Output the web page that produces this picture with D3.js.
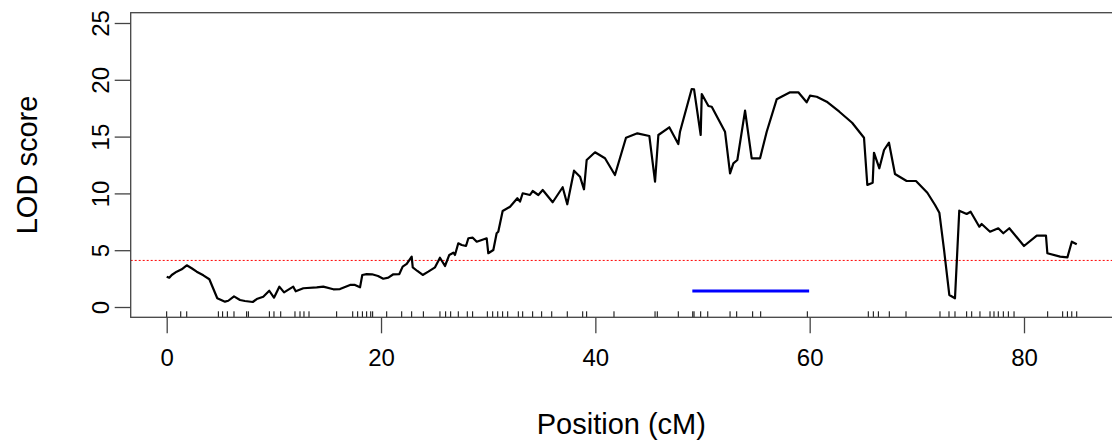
<!DOCTYPE html>
<html>
<head>
<meta charset="utf-8">
<script src="https://cdn.jsdelivr.net/npm/d3@7"></script>
<style>
  body { margin: 0; background: #fff; }
  text { font-family: "Liberation Sans", Arial, sans-serif; fill: #000; }
</style>
</head>
<body>
<script>
// LOD curve (position in cM, LOD score)
const positions = [0, 0.24, 0.47, 0.93, 1.4, 1.87, 2.33, 2.8, 3.42, 3.98, 4.72, 5.44, 5.75, 6.28, 6.84, 7.3, 8.03, 8.4, 9.01, 9.57, 10.01, 10.51, 10.95, 11.81, 12.04, 12.75, 14.0, 14.61, 15.55, 16.17, 17.11, 17.57, 18.04, 18.25, 18.66, 19.16, 19.72, 20.21, 20.68, 21.15, 21.71, 22.02, 22.4, 22.86, 22.96, 23.39, 23.89, 24.41, 25.04, 25.5, 25.97, 26.37, 26.75, 26.9, 27.21, 27.53, 27.93, 28.15, 28.56, 28.93, 29.4, 29.86, 30.01, 30.48, 30.79, 30.94, 31.35, 32.04, 32.72, 32.97, 33.22, 33.9, 34.15, 34.68, 35.09, 36.02, 36.95, 37.38, 38.01, 38.57, 38.94, 39.19, 39.97, 40.9, 41.83, 42.86, 43.92, 45.04, 45.57, 45.88, 46.9, 47.74, 47.9, 48.99, 49.21, 49.83, 49.93, 50.55, 50.86, 52.1, 52.57, 52.88, 53.25, 53.97, 54.59, 55.37, 55.99, 56.92, 58.17, 58.94, 59.72, 60.03, 60.66, 61.59, 62.77, 63.96, 65.07, 65.38, 65.88, 66.0, 66.5, 66.94, 67.4, 67.96, 69.05, 69.92, 70.98, 71.7, 72.1, 72.54, 73.03, 73.56, 73.96, 74.65, 75.02, 75.83, 76.05, 76.83, 77.6, 78.07, 78.63, 80.0, 81.19, 82.05, 82.18, 83.37, 84.05, 84.46, 84.92];
const lodScores = [2.67, 2.58, 2.82, 3.11, 3.32, 3.67, 3.41, 3.11, 2.79, 2.44, 0.77, 0.47, 0.55, 0.94, 0.62, 0.53, 0.44, 0.7, 0.91, 1.43, 0.82, 1.79, 1.29, 1.79, 1.38, 1.65, 1.73, 1.79, 1.56, 1.58, 1.94, 1.94, 1.73, 2.82, 2.9, 2.88, 2.73, 2.49, 2.58, 2.88, 2.9, 3.55, 3.79, 4.43, 3.49, 3.17, 2.82, 3.11, 3.49, 4.34, 3.61, 4.58, 4.78, 4.58, 5.61, 5.46, 5.37, 6.05, 6.1, 5.75, 5.9, 6.05, 4.73, 5.02, 6.49, 6.63, 8.45, 8.83, 9.57, 9.27, 10.01, 9.86, 10.21, 9.86, 10.3, 9.22, 10.54, 9.04, 12.0, 11.47, 10.36, 12.94, 13.62, 13.09, 11.62, 14.9, 15.29, 15.05, 11.03, 15.14, 15.82, 14.35, 15.43, 19.19, 19.16, 15.14, 18.75, 17.69, 17.63, 15.43, 11.77, 12.65, 12.94, 17.28, 13.09, 13.09, 15.43, 18.28, 18.9, 18.9, 18.02, 18.6, 18.51, 18.07, 17.19, 16.22, 14.9, 10.74, 10.94, 13.58, 12.21, 13.82, 14.46, 11.71, 11.09, 11.09, 10.06, 8.98, 8.3, 5.02, 1.06, 0.77, 8.48, 8.19, 8.39, 7.07, 7.31, 6.63, 6.93, 6.49, 6.93, 5.37, 6.28, 6.28, 4.73, 4.43, 4.37, 5.75, 5.52];

// marker positions (rug)
const markers = [0, 1.31, 1.87, 4.82, 5.22, 5.66, 6.28, 7.46, 7.62, 9.58, 10.01, 10.64, 11.97, 12.44, 12.81, 13.28, 15.86, 17.36, 17.82, 18.26, 18.66, 19.04, 19.22, 20.53, 21.93, 22.86, 23.95, 25.5, 26.03, 26.5, 27.21, 28.05, 28.55, 29.92, 30.42, 30.89, 31.35, 31.82, 32.81, 33.22, 34.15, 34.99, 35.93, 37.38, 38.82, 39.19, 41.74, 45.57, 45.78, 47.74, 49.09, 49.21, 49.83, 50.49, 52.57, 53.19, 54.68, 55.43, 59.78, 65.47, 65.94, 66.41, 67.43, 68.99, 72.16, 73.0, 73.56, 74.65, 75.12, 75.89, 76.83, 77.2, 77.6, 78.07, 78.54, 79.07, 82.21, 83.61, 84.05, 84.46, 84.92];

// significance threshold and confidence interval
const threshold = 4.1;
const ciBounds = [49.05, 59.95];
const ciLevel = 1.4;

const xTicks = [0, 20, 40, 60, 80];
const yTicks = [0, 5, 10, 15, 20, 25];

document.addEventListener("DOMContentLoaded", function () {
  const w = 1112;
  const h = 441;

  // plot box
  const boxLeft = 130.7;
  const boxTop = 12.7;
  const boxBottom = 317.3;
  const boxRight = 1114;

  const xScale = d3.scaleLinear().domain([0, 80]).range([166.7, 1024]);
  const yScale = d3.scaleLinear().domain([0, 25]).range([307, 23]);

  const svg = d3
    .select("body")
    .append("svg")
    .attr("width", w)
    .attr("height", h);

  // threshold line
  svg
    .append("line")
    .attr("x1", boxLeft)
    .attr("x2", boxRight)
    .attr("y1", yScale(threshold))
    .attr("y2", yScale(threshold))
    .attr("stroke", "#ff0000")
    .attr("stroke-width", 1)
    .attr("stroke-dasharray", "2,2");

  // LOD curve
  const data = positions.map((p, i) => ({ pos: p, lod: lodScores[i] }));
  const line = d3
    .line()
    .x((d) => xScale(d.pos))
    .y((d) => yScale(d.lod));

  svg
    .append("path")
    .datum(data)
    .attr("d", line)
    .attr("fill", "none")
    .attr("stroke", "#000")
    .attr("stroke-width", 2.2)
    .attr("stroke-linejoin", "round");

  // confidence interval segment
  svg
    .append("line")
    .attr("x1", xScale(ciBounds[0]))
    .attr("x2", xScale(ciBounds[1]))
    .attr("y1", yScale(ciLevel))
    .attr("y2", yScale(ciLevel))
    .attr("stroke", "#0000ff")
    .attr("stroke-width", 3);

  // rug of markers
  svg
    .selectAll(".rug")
    .data(markers)
    .enter()
    .append("line")
    .attr("class", "rug")
    .attr("x1", (d) => xScale(d))
    .attr("x2", (d) => xScale(d))
    .attr("y1", boxBottom)
    .attr("y2", boxBottom - 6)
    .attr("stroke", "#000")
    .attr("stroke-width", 1);

  // box
  svg
    .append("rect")
    .attr("x", boxLeft)
    .attr("y", boxTop)
    .attr("width", boxRight - boxLeft)
    .attr("height", boxBottom - boxTop)
    .attr("fill", "none")
    .attr("stroke", "#444")
    .attr("stroke-width", 1.3);

  // x axis
  const xAxis = d3
    .axisBottom(xScale)
    .tickValues(xTicks)
    .tickSize(16)
    .tickPadding(16)
    .tickFormat(d3.format("d"));
  const gx = svg
    .append("g")
    .attr("transform", "translate(0," + boxBottom + ")")
    .call(xAxis);
  gx.select(".domain").remove();
  gx.selectAll("line").attr("stroke", "#444").attr("stroke-width", 1.3);
  gx.selectAll("text").style("font-size", "24px").style("font-family", "Liberation Sans, Arial, sans-serif");

  // y axis with rotated labels
  const yAxis = d3.axisLeft(yScale).tickValues(yTicks).tickSize(16).tickFormat(d3.format("d"));
  const gy = svg
    .append("g")
    .attr("transform", "translate(" + boxLeft + ",0)")
    .call(yAxis);
  gy.select(".domain").remove();
  gy.selectAll("line").attr("stroke", "#444").attr("stroke-width", 1.3);
  gy.selectAll("text")
    .attr("x", null)
    .attr("dy", null)
    .attr("transform", "translate(-22,0) rotate(-90)")
    .attr("text-anchor", "middle")
    .attr("y", 0)
    .style("font-size", "24px")
    .style("font-family", "Liberation Sans, Arial, sans-serif");

  // axis titles
  svg
    .append("text")
    .attr("x", xScale(40) + 26)
    .attr("y", 434)
    .attr("text-anchor", "middle")
    .style("font-size", "29px")
    .text("Position (cM)");

  svg
    .append("text")
    .attr("transform", "translate(37," + 165 + ") rotate(-90)")
    .attr("text-anchor", "middle")
    .style("font-size", "29px")
    .text("LOD score");
});
</script>
</body>
</html>
